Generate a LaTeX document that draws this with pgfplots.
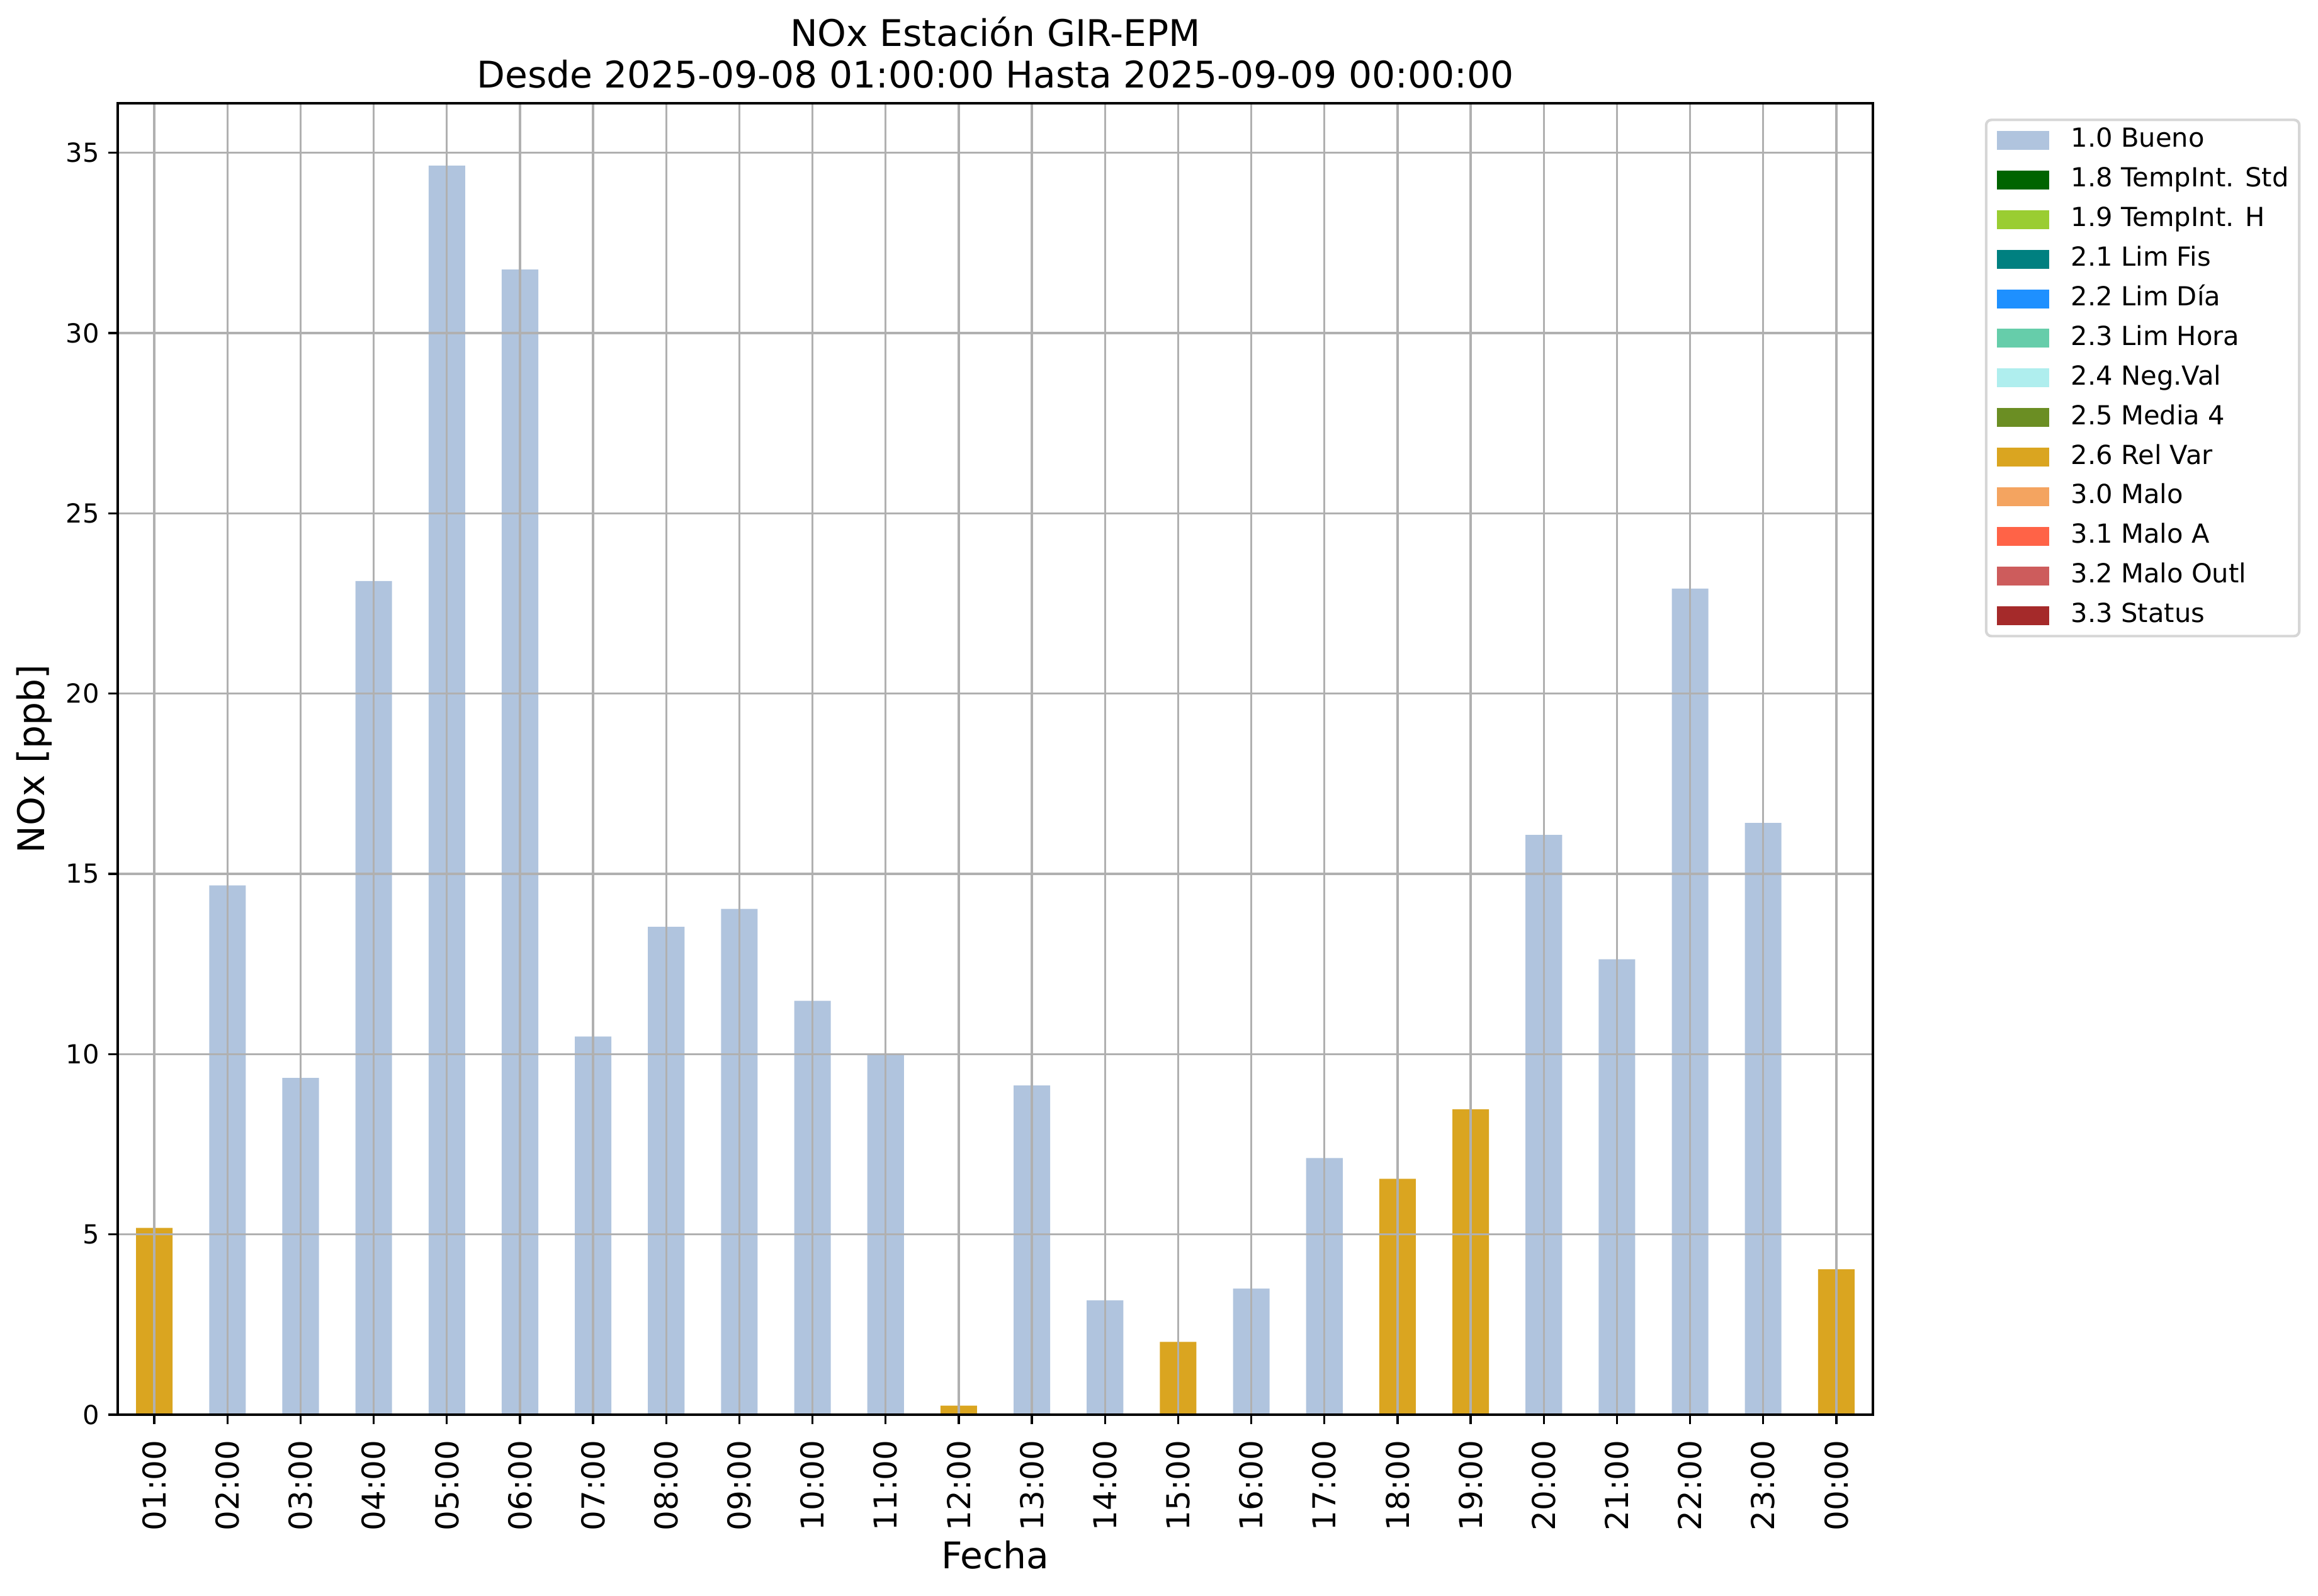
\documentclass[border=0pt]{standalone}
\usepackage{fontspec}
\setmainfont{DejaVu Sans}
\usepackage{pgfplots}
\pgfplotsset{compat=1.18}
\definecolor{cA}{HTML}{B0C4DE}
\definecolor{cB}{HTML}{006400}
\definecolor{cC}{HTML}{9ACD32}
\definecolor{cD}{HTML}{008080}
\definecolor{cE}{HTML}{1E90FF}
\definecolor{cF}{HTML}{66CDAA}
\definecolor{cG}{HTML}{AFEEEE}
\definecolor{cH}{HTML}{6B8E23}
\definecolor{cI}{HTML}{DAA520}
\definecolor{cJ}{HTML}{F4A460}
\definecolor{cK}{HTML}{FF6347}
\definecolor{cL}{HTML}{CD5C5C}
\definecolor{cM}{HTML}{A52A2A}
\definecolor{gridc}{HTML}{B0B0B0}
\definecolor{legc}{HTML}{D6D6D6}
\newcommand\legpatch[1]{\path[draw=none,fill=none] (0pt,0pt) -- (28.4pt,0pt); \path[draw=none, fill=#1, sharp corners] (0pt,-3.6pt) rectangle (20pt,3.6pt);}
\pgfplotstableread{
x y
1 14.68
2 9.34
3 23.12
4 34.64
5 31.76
6 10.49
7 13.53
8 14.03
9 11.48
10 10.00
12 9.13
13 3.17
15 3.50
16 7.12
19 16.08
20 12.63
21 22.91
22 16.41
}\bueno
\pgfplotstableread{
x y
0 5.18
11 0.25
14 2.02
17 6.54
18 8.47
23 4.03
}\relvar
\begin{document}
\begin{tikzpicture}
\begin{axis}[
  scale only axis, width=669.1pt, height=499.9pt,
  xmin=-0.5, xmax=23.5, ymin=0, ymax=36.37,
  xtick={0,...,23},
  xticklabels={01:00,02:00,03:00,04:00,05:00,06:00,07:00,08:00,09:00,10:00,11:00,12:00,13:00,14:00,15:00,16:00,17:00,18:00,19:00,20:00,21:00,22:00,23:00,00:00},
  ytick={0,5,...,35},
  /pgf/number format/assume math mode=true,
  xticklabel style={font=\fontsize{12}{14}\selectfont, rotate=90, anchor=east, inner xsep=6pt},
  yticklabel style={font=\fontsize{10}{12}\selectfont},
  tick align=outside, major tick length=3.5pt,
  xtick pos=bottom, ytick pos=left,
  tick style={black, line width=0.8pt},
  axis line style={line width=0.8pt},
  grid=major, major grid style={gridc, line width=0.8pt},
  axis on top,
  title={NOx Estación GIR-EPM\\Desde 2025-09-08 01:00:00 Hasta 2025-09-09 00:00:00},
  title style={align=center, font=\fontsize{14}{16}\selectfont, at={(axis description cs:0.5,1)}, anchor=south, inner sep=0pt, yshift=-0.6pt},
  xlabel={Fecha},
  xlabel style={font=\fontsize{14}{16}\selectfont, at={(axis description cs:0.5,-0.1176)}, anchor=base},
  ylabel={NOx [ppb]},
  ylabel style={font=\fontsize{14}{16}\selectfont, at={(axis description cs:-0.0477,0.5)}, anchor=center, rotate=0},
  legend cell align=left,
  legend style={at={(axis description cs:1.0638,0.9884)}, anchor=north west,
    draw=legc, line width=1pt, rounded corners=2pt, fill=white,
    font=\fontsize{10}{12}\selectfont,
    inner xsep=4pt, inner ysep=3pt, column sep=0pt, row sep=5.5pt,
    nodes={inner sep=0pt, text height=7.4pt, text depth=2.2pt}},
]
\addplot[ybar, bar width=0.5, bar shift=0pt, fill=cA, draw=none, legend image code/.code={\legpatch{cA}}] table[x=x,y=y] {\bueno};
\addlegendentry{1.0 Bueno}
\addlegendimage{legend image code/.code={\legpatch{cB}}}
\addlegendentry{1.8 TempInt. Std}
\addlegendimage{legend image code/.code={\legpatch{cC}}}
\addlegendentry{1.9 TempInt. H}
\addlegendimage{legend image code/.code={\legpatch{cD}}}
\addlegendentry{2.1 Lim Fis}
\addlegendimage{legend image code/.code={\legpatch{cE}}}
\addlegendentry{2.2 Lim Día}
\addlegendimage{legend image code/.code={\legpatch{cF}}}
\addlegendentry{2.3 Lim Hora}
\addlegendimage{legend image code/.code={\legpatch{cG}}}
\addlegendentry{2.4 Neg.Val}
\addlegendimage{legend image code/.code={\legpatch{cH}}}
\addlegendentry{2.5 Media 4}
\addplot[ybar, bar width=0.5, bar shift=0pt, fill=cI, draw=none, legend image code/.code={\legpatch{cI}}] table[x=x,y=y] {\relvar};
\addlegendentry{2.6 Rel Var}
\addlegendimage{legend image code/.code={\legpatch{cJ}}}
\addlegendentry{3.0 Malo}
\addlegendimage{legend image code/.code={\legpatch{cK}}}
\addlegendentry{3.1 Malo A}
\addlegendimage{legend image code/.code={\legpatch{cL}}}
\addlegendentry{3.2 Malo Outl}
\addlegendimage{legend image code/.code={\legpatch{cM}}}
\addlegendentry{3.3 Status}
\end{axis}
\pgfresetboundingbox
\useasboundingbox (-44.9pt,-68.9pt) rectangle (838.8pt,539.3pt);
\end{tikzpicture}
\end{document}
